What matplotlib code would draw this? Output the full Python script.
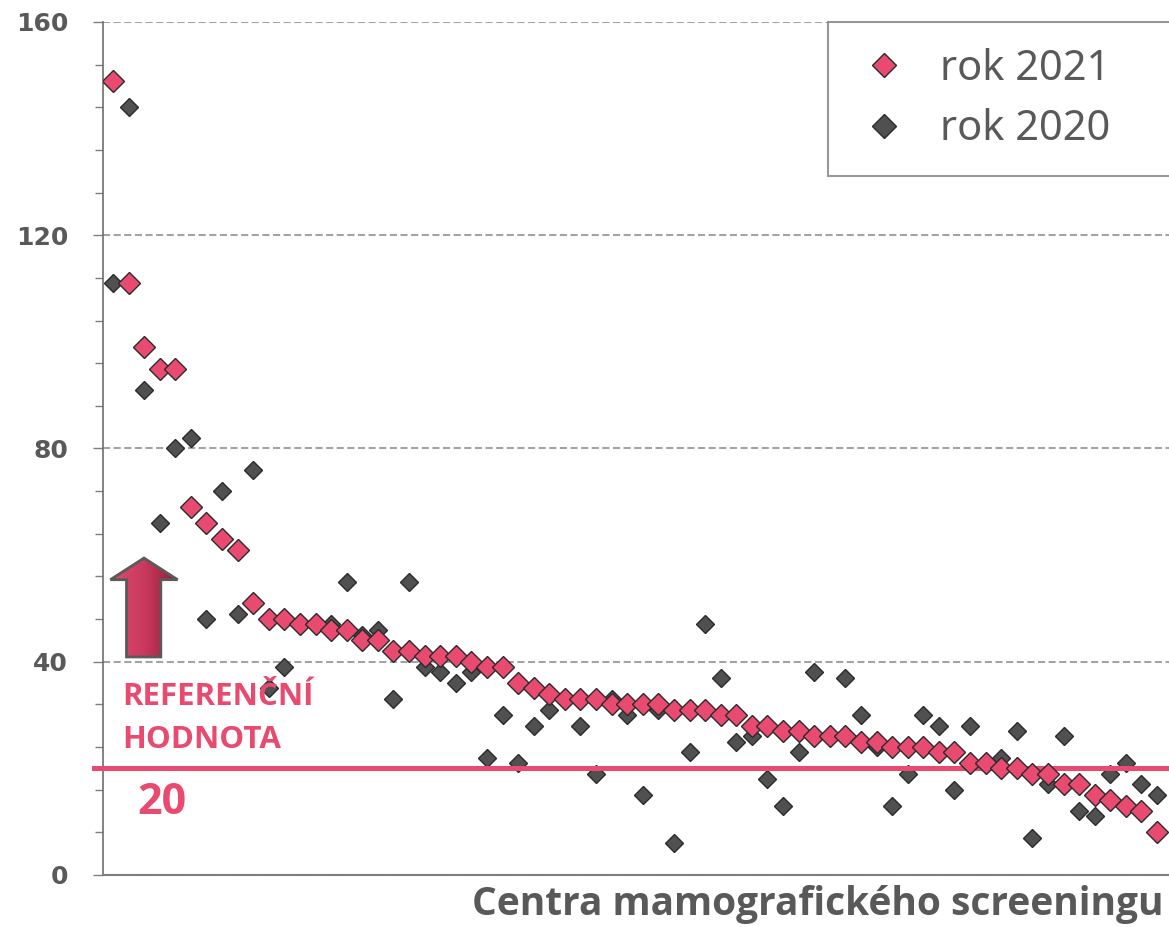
import matplotlib
matplotlib.use("Agg")
import matplotlib.pyplot as plt
import numpy as np
from matplotlib.patches import Polygon
from matplotlib.lines import Line2D
from matplotlib.ticker import MultipleLocator
from matplotlib.colors import LinearSegmentedColormap

# ---------------- data ----------------
centers = list(range(1, 69))
rok_2021 = [149, 111, 99, 95, 95, 69, 66, 63, 61, 51,
            48, 48, 47, 47, 46, 46, 44, 44, 42, 42,
            41, 41, 41, 40, 39, 39, 36, 35, 34, 33,
            33, 33, 32, 32, 32, 32, 31, 31, 31, 30,
            30, 28, 28, 27, 27, 26, 26, 26, 25, 25,
            24, 24, 24, 23, 23, 21, 21, 20, 20, 19,
            19, 17, 17, 15, 14, 13, 12, 8]
rok_2020 = [111, 144, 91, 66, 80, 82, 48, 72, 49, 76,
            35, 39, 47, 47, 47, 55, 45, 46, 33, 55,
            39, 38, 36, 38, 22, 30, 21, 28, 31, 33,
            28, 19, 33, 30, 15, 31, 6, 23, 47, 37,
            25, 26, 18, 13, 23, 38, 26, 37, 30, 24,
            13, 19, 30, 28, 16, 28, 21, 22, 27, 7,
            17, 26, 12, 11, 19, 21, 17, 15]
reference_value = 20
y_ticks = [0, 40, 80, 120, 160]
y_tick_labels = ["0", "40", "80", "120", "160"]
series_labels = ["rok 2021", "rok 2020"]
x_title = "Centra mamografického screeningu"
ref_text_1 = "REFERENČNÍ"
ref_text_2 = "HODNOTA"
ref_number = "20"

PINK = "#E84A70"
DARK = "#505050"
EDGE = "#2B2B2B"
GRAY_TXT = "#595959"
BOLD_FONT = "Open Sans"
LEG_FONT = "Noto Sans"

W, H = 1169, 927
fig = plt.figure(figsize=(W / 100, H / 100), dpi=100)
ax = fig.add_axes([103 / W, 1 - 875 / H, (1169 - 103) / W, (875 - 22) / H])

ax.set_xlim(0.36, 68.77)
ax.set_ylim(0, 160)

# grid
ax.set_yticks(y_ticks)
ax.set_yticklabels(y_tick_labels)
ax.yaxis.set_minor_locator(MultipleLocator(8))
ax.yaxis.grid(True, which="major", linestyle=(0, (3.4, 1.7)), color="#A3A3A3", lw=1.5, zorder=0)
ax.set_axisbelow(True)
ax.set_xticks([])

for s in ["top", "right"]:
    ax.spines[s].set_visible(False)
ax.spines["left"].set_color("#6E6E6E")
ax.spines["left"].set_linewidth(1.2)
ax.spines["bottom"].set_color("#7F7F7F")
ax.spines["bottom"].set_linewidth(1.5)

ax.tick_params(axis="y", which="major", direction="out", length=7, width=1, color="#7F7F7F",
               pad=18, labelsize=18, labelcolor=GRAY_TXT)
ax.tick_params(axis="y", which="minor", direction="out", length=6, width=1, color="#7F7F7F")
for lab in ax.get_yticklabels():
    lab.set_fontfamily("DejaVu Sans")
    lab.set_fontweight("bold")

# series
ax.plot(centers, rok_2020, linestyle="none", marker="D", ms=9.0, mfc=DARK, mec=EDGE, mew=1.0, zorder=3)
ax.axhline(reference_value, xmin=-0.008, xmax=1, color=PINK, lw=3.6, clip_on=False, zorder=4)
ax.plot(centers, rok_2021, linestyle="none", marker="D", ms=10.7, mfc=PINK, mec=EDGE, mew=1.0, zorder=5)

# legend
handles = [Line2D([], [], linestyle="none", marker="D", ms=12.5, mfc=PINK, mec=EDGE, mew=1.0),
           Line2D([], [], linestyle="none", marker="D", ms=12.5, mfc=DARK, mec=EDGE, mew=1.0)]
leg = ax.legend(handles, series_labels, loc="upper left",
                bbox_to_anchor=(828 / W, 1 - 170 / H, 420 / W, 148 / H),
                bbox_transform=fig.transFigure, mode="expand",
                prop={"family": LEG_FONT, "size": 30}, labelcolor=GRAY_TXT,
                frameon=True, fancybox=False, edgecolor="#7F7F7F", borderpad=0.62,
                handlelength=1.46, handletextpad=0.62, labelspacing=0.44, borderaxespad=0)
leg.get_frame().set_linewidth(1.5)

# reference texts
fig.text(122 / W, 1 - 697 / H, ref_text_1, ha="left", va="center", fontsize=22.5,
         weight="bold", color=PINK, family=BOLD_FONT)
fig.text(122 / W, 1 - 740 / H, ref_text_2, ha="left", va="center", fontsize=22.5,
         weight="bold", color=PINK, family=BOLD_FONT)
fig.text(137 / W, 1 - 802 / H, ref_number, ha="left", va="center", fontsize=31,
         weight="bold", color=PINK, family=BOLD_FONT)

# x title
fig.text(1163 / W, 1 - 905 / H, x_title, ha="right", va="center", fontsize=28,
         weight="bold", color=GRAY_TXT, family=BOLD_FONT)

# arrow with gradient
aax = fig.add_axes([109 / W, 1 - 659 / H, 70 / W, 103 / H])
aax.set_xlim(0, 1)
aax.set_ylim(0, 1)
aax.axis("off")
arrow_pts = [(0.5, 0.98), (0.02, 0.77), (0.25, 0.77), (0.25, 0.02),
             (0.74, 0.02), (0.74, 0.77), (0.98, 0.77)]
cmap = LinearSegmentedColormap.from_list("arr", ["#E24A70", "#C93A5E", "#8E1A37"])
grad = np.linspace(0, 1, 256).reshape(1, -1)
im = aax.imshow(grad, extent=(0, 1, 0, 1), aspect="auto", cmap=cmap, zorder=1)
poly = Polygon(arrow_pts, closed=True, facecolor="none", edgecolor="#5A5A5A", lw=2, zorder=2)
aax.add_patch(poly)
im.set_clip_path(poly)

fig.savefig("out.png", dpi=100)
